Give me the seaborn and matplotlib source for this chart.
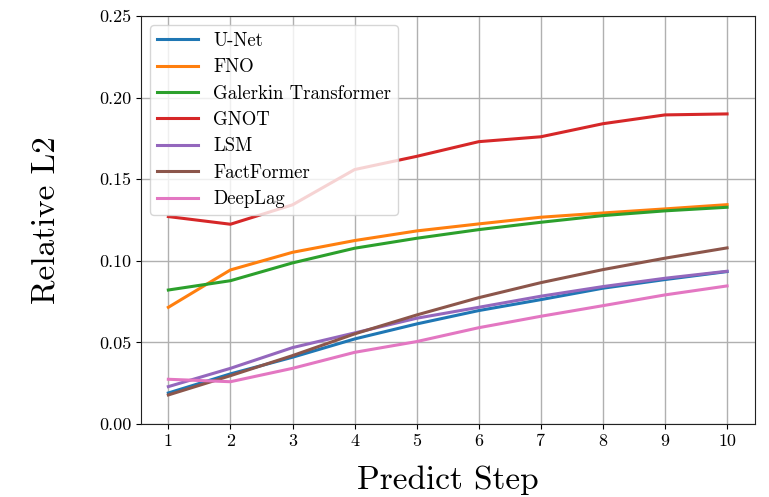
import matplotlib
matplotlib.use("Agg")
import matplotlib.pyplot as plt
import seaborn as sns
import pandas as pd

steps = [1, 2, 3, 4, 5, 6, 7, 8, 9, 10]
models = ["U-Net", "FNO", "Galerkin Transformer", "GNOT", "LSM", "FactFormer", "DeepLag"]
unet = [0.0190, 0.0307, 0.0409, 0.0521, 0.0613, 0.0695, 0.0762, 0.0832, 0.0885, 0.0934]
fno = [0.0715, 0.0944, 0.1052, 0.1124, 0.1183, 0.1226, 0.1267, 0.1293, 0.1318, 0.1344]
galerkin = [0.0821, 0.0878, 0.0987, 0.1077, 0.1138, 0.1191, 0.1236, 0.1277, 0.1306, 0.1328]
gnot = [0.1271, 0.1224, 0.1343, 0.1559, 0.1640, 0.1730, 0.1760, 0.1840, 0.1894, 0.1900]
lsm = [0.0229, 0.0341, 0.0468, 0.0558, 0.0648, 0.0715, 0.0783, 0.0842, 0.0893, 0.0936]
factformer = [0.0178, 0.0296, 0.0419, 0.0552, 0.0668, 0.0774, 0.0866, 0.0946, 0.1016, 0.1079]
deeplag = [0.0274, 0.0259, 0.0341, 0.0439, 0.0505, 0.0590, 0.0660, 0.0725, 0.0791, 0.0846]

series = [unet, fno, galerkin, gnot, lsm, factformer, deeplag]
rows = []
for name, vals in zip(models, series):
    for s, v in zip(steps, vals):
        rows.append({"step": s, "value": v, "model": name})
df = pd.DataFrame(rows)

plt.rcParams["font.family"] = ["cmr10"]
plt.rcParams["mathtext.fontset"] = "cm"
plt.rcParams["axes.formatter.use_mathtext"] = True

fig = plt.figure(figsize=(7.69, 4.97), dpi=100)
ax = fig.add_axes([0.1834, 0.1469, 0.7984, 0.8209])

sns.lineplot(data=df, x="step", y="value", hue="model", hue_order=models,
             palette=sns.color_palette("tab10", 7), linewidth=2.2, ax=ax)

ax.set_xlim(0.56, 10.45)
ax.set_ylim(0, 0.25)
ax.set_xticks(steps)
ax.set_xticklabels([str(s) for s in steps])
ax.set_yticks([0.0, 0.05, 0.10, 0.15, 0.20, 0.25])
ax.set_yticklabels(["0.00", "0.05", "0.10", "0.15", "0.20", "0.25"])
ax.tick_params(labelsize=13)
ax.grid(True, color="#b0b0b0", linewidth=1.0)
ax.set_axisbelow(True)
for sp in ax.spines.values():
    sp.set_color("#222222")
ax.set_xlabel("Predict Step", fontsize=24, labelpad=12)
ax.set_ylabel("Relative L2", fontsize=24, labelpad=28)

leg = ax.legend(loc="upper left", fontsize=13.5, framealpha=0.8, handlelength=2.2,
                labelspacing=0.45, borderpad=0.35)

fig.savefig("out.png", dpi=100)
